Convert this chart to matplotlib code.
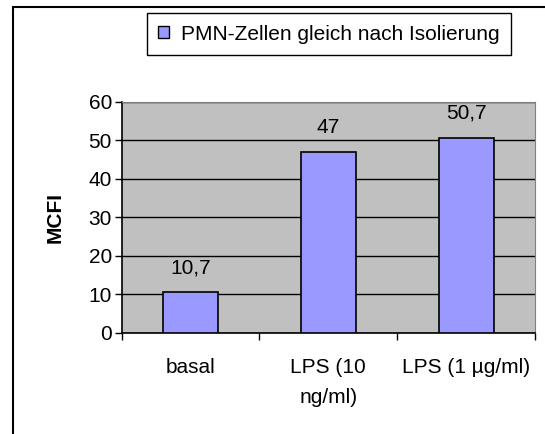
import matplotlib.pyplot as plt
from matplotlib.patches import Patch, Rectangle

plt.rcParams['font.family'] = ['Liberation Sans', 'DejaVu Sans']

# Daten
kategorien = ['basal', 'LPS (10\nng/ml)', 'LPS (1 µg/ml)']
werte = [10.7, 47, 50.7]
beschriftung = ['10,7', '47', '50,7']
serie = 'PMN-Zellen gleich nach Isolierung'

W, H = 545, 434
fs = 15
fig = plt.figure(figsize=(W / 100, H / 100), dpi=100)

# Rahmen um das Diagramm (rechts/unten abgeschnitten)
fig.patches.append(Rectangle((13 / W, -0.1), 1.2, 1.1 - 7 / H, transform=fig.transFigure,
                             fill=False, edgecolor='black', linewidth=1.5))

ax = fig.add_axes([121.7 / W, 1 - 333 / H, (535 - 121.7) / W, (333 - 101.7) / H])
ax.set_facecolor('#C0C0C0')

x = range(len(werte))
ax.bar(x, werte, width=0.4, color='#9999FF', edgecolor='black', linewidth=1.2, zorder=3)

for xi, v, t in zip(x, werte, beschriftung):
    ax.annotate(t, (xi, v), xytext=(0, 10.5), textcoords='offset points',
                ha='center', va='bottom', fontsize=fs)

ax.set_xlim(-0.5, 2.5)
ax.set_ylim(0, 60)
ax.set_yticks(range(0, 61, 10))
ax.tick_params(axis='y', labelsize=fs, length=5, width=1, direction='out', pad=2)
ax.grid(axis='y', color='black', linewidth=1, zorder=1)

# Kategorie-Ticks an den Grenzen, Labels in der Mitte
ax.set_xticks([-0.5, 0.5, 1.5, 2.5])
ax.set_xticklabels([])
ax.tick_params(axis='x', length=5, width=1, direction='out')
ax.set_xticks(list(x), minor=True)
ax.set_xticklabels(kategorien, minor=True, fontsize=fs, linespacing=1.75)
ax.tick_params(axis='x', which='minor', length=0, pad=18)

ax.spines['left'].set_linewidth(1.2)
ax.spines['bottom'].set_linewidth(1.2)
ax.spines['top'].set_color('#808080')
ax.spines['right'].set_color('#808080')

ax.set_ylabel('MCFI', fontsize=fs, fontweight='bold', labelpad=17)

fig.legend(handles=[Patch(facecolor='#9999FF', edgecolor='black', linewidth=1)], labels=[serie],
           loc='upper left', bbox_to_anchor=(146.7 / W, 1 - 13.3 / H), fontsize=fs,
           frameon=True, fancybox=False, edgecolor='black', framealpha=1,
           handlelength=0.5, handleheight=0.5, handletextpad=0.6, borderpad=0.55,
           borderaxespad=0)

fig.savefig('out.png', dpi=100)
